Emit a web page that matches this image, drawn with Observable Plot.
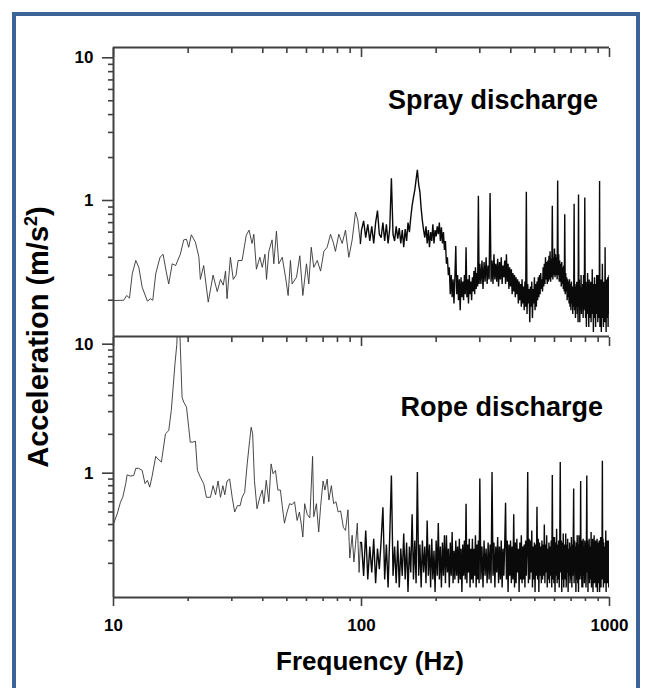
<!DOCTYPE html>
<html>
<head>
<meta charset="utf-8">
<script src="https://cdn.jsdelivr.net/npm/d3@7"></script>
<script src="https://cdn.jsdelivr.net/npm/@observablehq/plot@0.6"></script>
<style>
  html, body { margin: 0; padding: 0; background: #fff; }
  #wrap { position: relative; width: 651px; height: 688px; overflow: hidden; font-family: "Liberation Sans", Arial, sans-serif; background: #fff; }
  #border { position: absolute; left: 12px; top: 12px; width: 620px; height: 720px; border: 4px solid #3b6597; box-sizing: content-box; }
  .plot-holder { position: absolute; left: 0; }
  .title { position: absolute; font-weight: bold; font-size: 27px; line-height: 27px; white-space: nowrap; color: #000; }
  #ytitle { position: absolute; left: 38px; top: 337px; transform: translate(-50%, -50%) rotate(-90deg); font-weight: bold; font-size: 29px; line-height: 32px; white-space: nowrap; color: #000; }
  #ytitle sup { font-size: 18px; line-height: 0; vertical-align: 11px; }
  #xtitle { position: absolute; left: 370px; top: 661px; transform: translate(-50%, -50%); font-weight: bold; font-size: 26px; line-height: 30px; white-space: nowrap; color: #000; }
</style>
</head>
<body>
<div id="wrap">
  <div id="border"></div>
  <div id="plotA" class="plot-holder" style="top:0px"></div>
  <div id="plotB" class="plot-holder" style="top:326px"></div>
  <div id="titleA" class="title" style="right:53px; top:87px"></div>
  <div id="titleB" class="title" style="right:48px; top:394px"></div>
  <div id="ytitle">Acceleration (m/s<sup>2</sup>)</div>
  <div id="xtitle">Frequency (Hz)</div>
</div>
<script>
// ---- tick values and labels ----
const xMajor = [10, 100, 1000];
const xLabels = ["10", "100", "1000"];
const xMinor = [20, 30, 40, 50, 60, 70, 80, 90, 200, 300, 400, 500, 600, 700, 800, 900];
const yMajor = [1, 10];
const yLabels = ["1", "10"];
const yMinor = [0.2, 0.3, 0.4, 0.5, 0.6, 0.7, 0.8, 0.9, 2, 3, 4, 5, 6, 7, 8, 9];
const panelTitles = ["Spray discharge", "Rope discharge"];

// ---- spray discharge, 10-99 Hz: [frequency Hz, acceleration m/s2] ----
const sprayLow = [
  [10.0,0.199],[11.0,0.20],[11.3,0.216],[11.6,0.207],[11.9,0.306],[12.3,0.38],[12.65,0.34],[13.05,0.247],[13.7,0.197],[14.1,0.205],
  [14.4,0.20],[14.8,0.306],[15.4,0.40],[15.85,0.42],[16.3,0.32],[16.7,0.26],[17.25,0.36],[17.8,0.35],[18.6,0.42],[19.2,0.53],
  [19.7,0.535],[20.1,0.47],[20.6,0.575],[21.4,0.51],[22.1,0.40],[22.4,0.28],[23.1,0.35],[24.1,0.194],[25.2,0.30],[26.2,0.23],
  [27.0,0.28],[27.7,0.255],[28.3,0.32],[28.7,0.205],[29.6,0.40],[30.4,0.28],[31.2,0.30],[31.8,0.38],[33.0,0.38],[34.3,0.57],
  [35.2,0.62],[36.2,0.50],[36.8,0.58],[37.7,0.33],[38.9,0.40],[39.8,0.34],[40.8,0.42],[41.4,0.28],[42.3,0.44],[43.6,0.53],
  [44.3,0.36],[45.4,0.61],[46.4,0.36],[47.9,0.40],[49.4,0.29],[50.6,0.216],[51.7,0.38],[52.5,0.26],[54.7,0.29],[56.4,0.41],
  [58.0,0.216],[60.0,0.36],[61.3,0.26],[62.7,0.47],[64.2,0.34],[66.3,0.38],[68.4,0.32],[70.5,0.44],[72.7,0.47],[75.0,0.58],
  [76.9,0.51],[78.5,0.44],[81.0,0.58],[83.6,0.50],[86.2,0.62],[88.9,0.40],[91.7,0.53],[94.6,0.83],[96.6,0.73],[99.0,0.50]
];

// ---- rope discharge, 10-99 Hz: [frequency Hz, acceleration m/s2] ----
const ropeLow = [
  [10.0,0.405],[10.35,0.484],[10.67,0.596],[10.9,0.652],[11.2,0.828],[11.35,0.97],[11.7,0.95],[12.07,0.96],[12.3,1.09],[12.65,1.09],
  [13.05,1.05],[13.4,0.83],[13.7,0.88],[14.0,0.78],[14.3,0.94],[14.8,1.35],[15.1,1.29],[15.6,1.22],[16.2,2.02],[16.7,2.14],
  [17.1,3.06],[17.4,4.64],[17.7,7.05],[18.0,9.95],[18.2,16.0],[18.45,15.0],[18.6,9.5],[18.9,3.88],[19.2,3.55],[19.7,3.25],
  [20.1,2.27],[20.4,1.74],[20.9,1.74],[21.4,1.77],[21.8,1.05],[22.4,0.93],[23.1,0.83],[23.7,0.65],[24.6,0.65],[25.2,0.80],
  [25.8,0.68],[26.4,0.87],[27.0,0.65],[27.6,0.80],[28.1,0.68],[28.7,0.87],[29.4,0.90],[30.1,0.65],[30.8,0.50],[31.6,0.56],
  [32.4,0.56],[33.0,0.65],[33.8,0.71],[34.6,1.18],[35.4,1.79],[35.9,2.27],[36.4,2.02],[37.0,0.88],[37.9,0.53],[38.9,0.65],
  [39.8,0.74],[40.4,0.58],[41.3,0.88],[42.3,0.60],[43.2,1.18],[44.0,0.99],[45.0,1.05],[46.0,0.74],[47.1,0.74],[47.9,0.56],
  [48.9,0.41],[50.1,0.50],[51.3,0.58],[52.5,0.57],[53.7,0.60],[55.0,0.43],[56.2,0.50],[57.3,0.39],[58.0,0.32],[59.0,0.58],
  [60.4,0.48],[61.9,0.45],[63.5,1.35],[64.2,0.46],[65.8,0.58],[67.2,0.35],[68.4,0.55],[70.0,0.87],[71.2,0.74],[72.7,0.90],
  [73.9,0.62],[75.6,0.80],[77.2,0.58],[78.9,0.60],[80.5,0.50],[82.4,0.51],[84.5,0.38],[86.2,0.36],[88.2,0.52],[89.7,0.22],
  [91.7,0.33],[93.2,0.205],[94.6,0.28],[96.2,0.41],[97.8,0.17],[99.0,0.29]
];

// ---- shared FFT bins 100-999 Hz ----
const hfFreq = [
  100,102,104,106,108,110,112,114,116,118,
  120,122,124,126,128,130,132,134,136,138,
  140,142,144,146,148,150,152,154,156,158,
  160,162,164,166,168,170,172,174,176,178,
  180,182,184,186,188,190,192,194,196,198,
  200,202,204,206,208,210,212,214,216,218,
  220,222,224,226,228,230,232,234,236,238,
  240,242,244,246,248,250,252,254,256,258,
  260,262,264,266,268,270,272,274,276,278,
  280,282,284,286,288,290,292,294,296,298,
  300,303,306,309,312,315,318,321,324,327,
  330,333,336,339,342,345,348,351,354,357,
  360,363,366,369,372,375,378,381,384,387,
  390,393,396,399,402,405,408,411,414,417,
  420,423,426,429,432,435,438,441,444,447,
  450,453,456,459,462,465,468,471,474,477,
  480,483,486,489,492,495,498,501,504,507,
  510,513,516,519,522,525,528,531,534,537,
  540,543,546,549,552,555,558,561,564,567,
  570,573,576,579,582,585,588,591,594,597,
  600,603,606,609,612,615,618,621,624,627,
  630,633,636,639,642,645,648,651,654,657,
  660,663,666,669,672,675,678,681,684,687,
  690,693,696,699,702,705,708,711,714,717,
  720,723,726,729,732,735,738,741,744,747,
  750,753,756,759,762,765,768,771,774,777,
  780,783,786,789,792,795,798,801,804,807,
  810,813,816,819,822,825,828,831,834,837,
  840,843,846,849,852,855,858,861,864,867,
  870,873,876,879,882,885,888,891,894,897,
  900,903,906,909,912,915,918,921,924,927,
  930,933,936,939,942,945,948,951,954,957,
  960,963,966,969,972,975,978,981,984,987,
  990,993,996,999
];

const sprayHigh = [
  .62,.72,.55,.68,.52,.66,.50,.70,.85,.58,
  .55,.70,.52,.68,.50,.64,1.43,.58,.52,.66,
  .54,.64,.50,.62,.47,.63,.52,.70,.60,.76,
  .92,1.05,1.18,1.40,1.64,1.30,1.15,.88,.72,.62,
  .55,.66,.50,.62,.47,.60,.52,.68,.50,.62,
  .56,.66,.58,.70,.52,.65,.50,.60,.45,.52,
  .36,.40,.30,.34,.22,.30,.21,.28,.19,.29,
  .48,.22,.30,.20,.28,.17,.29,.21,.27,.20,
  .30,.22,.47,.21,.28,.19,.30,.22,.27,.20,
  .29,.23,.32,.22,.34,.24,.31,.25,1.08,.26,
  .36,.26,.38,.24,.37,.27,.40,.26,.35,.28,
  1.13,.27,.38,.26,.42,.28,.36,.27,.39,.25,
  .37,.28,.40,.26,.35,.29,.38,.26,.42,.27,
  .36,.24,.34,.25,.33,.22,.31,.23,.30,.21,
  .29,.22,.28,.19,.27,.20,.26,.18,.28,.19,
  .25,.17,.27,.18,1.15,.16,.26,.19,.24,.14,
  .25,.18,.27,.15,.24,.19,.29,.17,.26,.18,
  .27,.20,.29,.21,.30,.22,.31,.24,.28,.23,
  .34,.25,.36,.26,.40,.28,.37,.26,.38,.27,
  .41,.28,.44,.27,.39,.29,.92,.28,.40,.30,
  .46,.29,.42,.30,.40,.28,1.38,.30,.42,.27,
  .38,.27,.36,.25,.37,.26,.34,.24,.35,.23,
  .80,.22,.31,.23,.29,.20,.28,.21,.27,.19,
  .28,.18,.26,.17,.27,.19,.25,.16,.24,.18,
  .95,.17,.26,.15,.25,.18,.27,.16,.24,.14,
  1.10,.18,.28,.14,.25,.17,.30,.16,.23,.19,
  .26,.15,.30,.17,.25,1.05,.24,.15,.27,.13,
  .24,.16,.31,.18,.25,.13,.28,.17,.26,.15,
  .27,.14,.25,.19,.33,.16,.24,.12,.26,.17,
  .29,.15,.26,.13,.24,.18,.30,.16,.25,.14,
  .30,.16,.27,.15,1.37,.13,.25,.18,.28,.12,
  .26,.15,.36,.17,.24,.13,.27,.16,.25,.14,
  .47,.17,.26,.12,.28,.16,.23,.15,.29,.13,
  .25,.16,.30,.17
];

const ropeHigh = [
  .29,.16,.36,.15,.27,.17,.31,.14,.26,.18,
  .30,.545,.15,.28,.13,.33,.96,.16,.27,.14,
  .30,.13,.26,.16,.34,.15,.29,.12,.27,.17,
  .48,.15,.30,.14,1.02,.16,.28,.13,.30,.17,
  .27,.14,.43,.16,.28,.13,.31,.15,.25,.12,
  .30,.16,.41,.15,.27,.13,.29,.16,.33,.14,
  .33,.17,.26,.13,.29,.16,.35,.14,.25,.15,
  .30,.16,.27,.14,.31,.15,.26,.12,.28,.16,
  .30,.15,.58,.14,.28,.17,.31,.13,.26,.15,
  .31,.14,.26,.16,.33,.13,.28,.15,.30,.14,
  .91,.15,.27,.13,.30,.16,.26,.14,.29,.15,
  .28,.14,1.02,.16,.29,.13,.27,.17,.32,.14,
  .27,.15,.30,.13,.26,.16,.28,.59,.15,.30,
  .12,.28,.16,.30,.14,.27,.15,.48,.13,.29,
  .14,.31,.17,.26,.12,.29,.15,.33,.14,.27,
  .15,.28,.13,.30,.16,.27,1.02,.14,.31,.15,
  .30,.17,.36,.13,.27,.15,.29,.12,.28,.16,
  .55,.15,.31,.12,.29,.16,.27,.14,.30,.15,
  .28,.16,.40,.14,.28,.17,.33,.13,.26,.15,
  .29,.14,.27,.16,.30,.13,.97,.15,.32,.14,
  .32,.12,.29,.16,.37,.14,.28,.15,.30,.13,
  .27,1.22,.17,.30,.12,.29,.15,.34,.13,.28,
  .27,.15,.34,.13,.28,.17,.31,.12,.26,.16,
  .29,.14,.27,.15,.32,.13,.28,.16,.30,.76,
  .14,.30,.17,.27,.12,.29,.15,.33,.14,.28,
  .12,.33,.15,.28,.16,.87,.15,.28,.13,.30,
  .13,.31,.16,.27,.14,.30,.15,.29,.13,.28,
  .96,.17,.30,.12,.28,.16,.31,.14,.27,.15,
  .16,.35,.13,.27,.17,.31,.12,.29,.15,.33,
  .14,.28,.16,.30,.13,.27,.17,.31,.12,.29,
  .14,.27,.17,.30,.12,.28,.15,.32,.13,.27,
  .15,.28,1.25,.15,.31,.13,.29,.16,.27,.14,
  .27,.17,.36,.12,.29,.16,.30,.14,.28,.15,
  .30,.13,.29,.16
];

// y-scale domains (panel extents) for each panel
const sprayDomain = [0.1114, 11.81];
const ropeDomain = [0.1087, 11.47];

function lowSeries(low) { return low.map(([f, v]) => ({f, v})); }
function highSeries(low, high) {
  const last = low[low.length - 1];
  const out = [{f: last[0], v: last[1]}];
  const n = Math.min(hfFreq.length, high.length);
  for (let i = 0; i < n; i++) out.push({f: hfFreq[i], v: high[i]});
  return out;
}

const AX = "#404040";
const fmtY = d => yLabels[yMajor.indexOf(d)];
const fmtX = d => xLabels[xMajor.indexOf(d)];
const blank = () => "";

function panelMarks(low, high, domain) {
  return [
    Plot.line(lowSeries(low), {x: "f", y: "v", stroke: "#333", strokeWidth: 0.9, clip: true}),
    Plot.line(highSeries(low, high), {x: "f", y: "v", stroke: "#0a0a0a", strokeWidth: 1.4, strokeLinejoin: "miter", strokeMiterlimit: 1, clip: true}),
    Plot.axisY(yMinor, {anchor: "left", tickSize: 5, tickFormat: blank, stroke: AX, strokeWidth: 1.6, label: null}),
    Plot.axisY(yMajor, {anchor: "left", tickSize: 11, tickPadding: 9, tickFormat: fmtY, fontSize: 17, fontWeight: "bold", stroke: AX, fill: "#000", strokeWidth: 1.6, label: null}),
    Plot.axisX(xMinor, {anchor: "top", tickSize: -5, tickFormat: blank, stroke: AX, strokeWidth: 1.6, label: null}),
    Plot.axisX(xMajor, {anchor: "top", tickSize: -9, tickFormat: blank, stroke: AX, strokeWidth: 1.6, label: null}),
    Plot.ruleX([xMajor[0]], {stroke: AX, strokeWidth: 2}),
    Plot.ruleY([domain[1]], {stroke: AX, strokeWidth: 2})
  ];
}

const common = {
  width: 651, marginLeft: 113, marginRight: 42,
  style: {background: "transparent", overflow: "visible", fontFamily: "'Liberation Sans', Arial, sans-serif", color: "#000"}
};

const plotA = Plot.plot({
  ...common,
  height: 337, marginTop: 47, marginBottom: 1,
  x: {type: "log", domain: [10, 1000], axis: null, label: null},
  y: {type: "log", domain: sprayDomain, axis: null, label: null},
  marks: panelMarks(sprayLow, sprayHigh, sprayDomain)
});

const plotB = Plot.plot({
  ...common,
  height: 331, marginTop: 10, marginBottom: 60,
  x: {type: "log", domain: [10, 1000], axis: null, label: null},
  y: {type: "log", domain: ropeDomain, axis: null, label: null},
  marks: [
    ...panelMarks(ropeLow, ropeHigh, ropeDomain),
    Plot.axisX(xMinor, {anchor: "bottom", tickSize: 4, tickFormat: blank, stroke: AX, strokeWidth: 1.6, label: null}),
    Plot.axisX(xMajor, {anchor: "bottom", tickSize: 9, tickPadding: 12, tickFormat: fmtX, fontSize: 17, fontWeight: "bold", stroke: AX, fill: "#000", strokeWidth: 1.6, label: null}),
    Plot.ruleY([ropeDomain[0]], {stroke: AX, strokeWidth: 2})
  ]
});

document.getElementById("plotA").appendChild(plotA);
document.getElementById("plotB").appendChild(plotB);
document.getElementById("titleA").textContent = panelTitles[0];
document.getElementById("titleB").textContent = panelTitles[1];
</script>
</body>
</html>
